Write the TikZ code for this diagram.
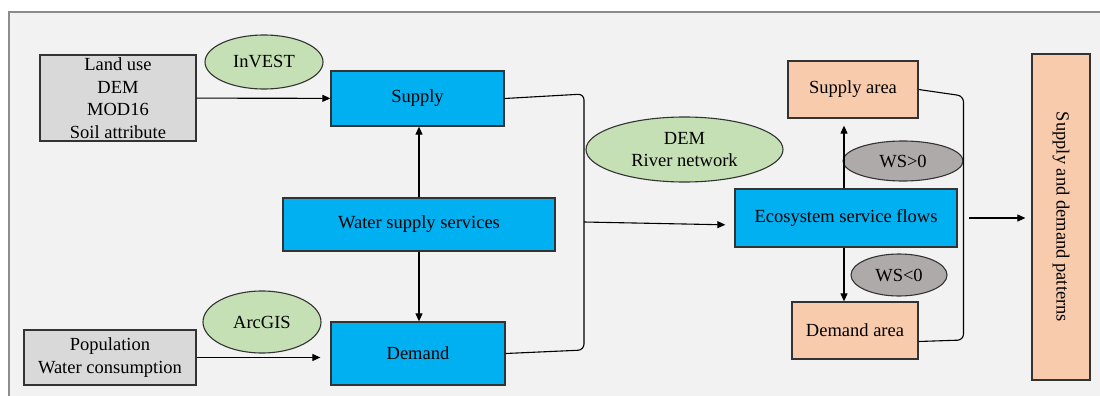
\documentclass[tikz,border=0pt]{standalone}
\usepackage{fontspec}
\setmainfont{Liberation Serif}
\usetikzlibrary{arrows.meta,shapes.geometric}
\definecolor{bgc}{HTML}{F2F2F2}
\definecolor{bgedge}{HTML}{8C8C8C}
\definecolor{edge}{HTML}{333333}
\definecolor{inc}{HTML}{D9D9D9}
\definecolor{bluec}{HTML}{00B0F0}
\definecolor{greenc}{HTML}{C5E0B4}
\definecolor{grayell}{HTML}{AEAAAA}
\definecolor{peach}{HTML}{F8CBAD}
\begin{document}
\begin{tikzpicture}[x=1pt,y=-1pt,
  every node/.style={font=\fontsize{18.5}{22.5}\selectfont, text=black},
  box/.style={draw=edge, line width=1.3pt, inner sep=0pt, align=center, rectangle},
  ell/.style={draw=edge, line width=1.1pt, ellipse, inner sep=0pt, align=center},
  conn/.style={draw=black, line width=1.1pt},
  arr/.style={conn, -{Triangle[length=8pt,width=7pt]}}
]
\useasboundingbox (0,0) rectangle (1100,396);
\fill[bgc] (9,12) rectangle (1100,396);
\draw[bgedge, line width=1.2pt] (9,396) -- (9,12) -- (1100,12);

% left inputs
\node[box, fill=inc, minimum width=156, minimum height=86] (in1) at (118,98) {Land use\\DEM\\MOD16\\Soil attribute};
\node[box, fill=inc, minimum width=172, minimum height=55] (pop) at (110,357.5) {Population\\Water consumption};

% ellipses
\node[ell, fill=greenc, minimum width=118, minimum height=54] (invest) at (264,62) {InVEST};
\node[ell, fill=greenc, minimum width=118, minimum height=62] (arcgis) at (262,322) {ArcGIS};
\node[ell, fill=greenc, minimum width=197, minimum height=65] (demr) at (684.5,149.5) {DEM\\River network};
\node[ell, fill=grayell, minimum width=120, minimum height=40] (wsp) at (903,161) {WS>0};
\node[ell, fill=grayell, minimum width=96, minimum height=42] (wsn) at (899,275) {WS<0};

% blue boxes
\node[box, fill=bluec, minimum width=173, minimum height=55] (supply) at (417.5,98.5) {Supply};
\node[box, fill=bluec, minimum width=272, minimum height=53] (wss) at (419,224.5) {Water supply services};
\node[box, fill=bluec, minimum width=174, minimum height=63] (demand) at (418,353.5) {Demand};
\node[box, fill=bluec, minimum width=222, minimum height=58] (esf) at (846,218) {Ecosystem service flows};

% peach boxes
\node[box, fill=peach, minimum width=130, minimum height=57] (sA) at (853,89.5) {Supply area};
\node[box, fill=peach, minimum width=126, minimum height=57] (dA) at (855,330.5) {Demand area};
\node[box, fill=peach, minimum width=326, minimum height=58, rotate=-90] (sdp) at (1061,217) {Supply and demand patterns};

% connectors
\draw[arr] (in1) -- (supply);
\draw[arr] (wss.north) -- (wss.north |- supply.south);
\draw[arr] (wss.south) -- (wss.south |- demand.north);
\draw[arr, shorten >=10pt] (pop.east) -- (pop.east -| demand.west);

\coordinate (lbt) at (584,94);
\coordinate (lbb) at (584,350);
\coordinate (lbm) at (584,222);
\draw[conn, rounded corners=6pt] (supply.east) -- (lbt) -- (lbb) -- (demand.east);
\draw[arr, shorten >=9pt] (lbm) -- ([yshift=-7pt]esf.west);

\draw[arr, shorten >=7pt] ([xshift=-2pt]esf.north) -- ([xshift=-2pt]esf.north |- sA.south);
\draw[arr] ([xshift=-2pt]esf.south) -- ([xshift=-2pt]esf.south |- dA.north);

\coordinate (rbt) at (963.5,96);
\coordinate (rbb) at (963.5,340);
\draw[conn, rounded corners=6pt] (sA.east) -- (rbt) -- (rbb) -- ([yshift=-11pt]dA.east);
\coordinate (ro) at (969,218);
\draw[arr, shorten >=6pt] (ro) -- (ro -| sdp.south);
\end{tikzpicture}
\end{document}
